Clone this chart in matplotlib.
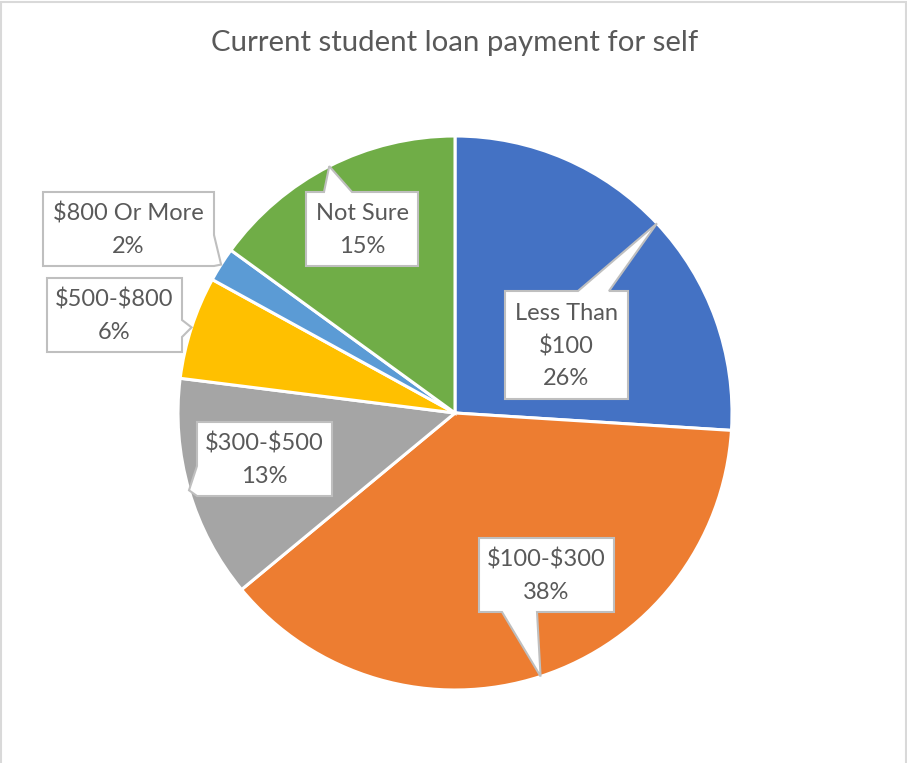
import matplotlib.pyplot as plt
from matplotlib.patches import Polygon, Rectangle
import numpy as np

# Survey responses, clockwise from 12 o'clock
categories = ["Less Than\n$100", "$100-$300", "$300-$500", "$500-$800", "$800 Or More", "Not Sure"]
percents = [26, 38, 13, 6, 2, 15]
colors = ["#4472C4", "#ED7D31", "#A5A5A5", "#FFC000", "#5B9BD5", "#70AD47"]
title = "Current student loan payment for self"

W, H = 907, 763
TEXT = "#595959"
FONT = "Lato"

# callout boxes in pixel coords (left, top, right, bottom) and where the tail leaves the box
callouts = [
    ((505, 291, 628, 399), "top", (578, 609)),
    ((479, 538, 614, 612), "bottom", (502, 537)),
    ((197, 422, 332, 496), "left", (466, 496)),
    ((47, 278, 182, 352), "right", (320, 337)),
    ((43, 192, 214, 266), "right", (235, 266)),
    ((306, 192, 418, 266), "top", (324, 352)),
]

cx, cy, radius = 455, 413, 277


def flip(pts):
    return [(x, H - y) for x, y in pts]


def callout_shape(box, side, base, tip):
    l, t, r, b = box
    a0, a1 = base
    if side == "top":
        pts = [(l, t), (a0, t), tip, (a1, t), (r, t), (r, b), (l, b)]
    elif side == "right":
        pts = [(l, t), (r, t), (r, a0), tip, (r, a1), (r, b), (l, b)]
    elif side == "bottom":
        pts = [(l, t), (r, t), (r, b), (a1, b), tip, (a0, b), (l, b)]
    else:
        pts = [(l, t), (r, t), (r, b), (l, b), (l, a1), tip, (l, a0)]
    return flip(pts)


fig = plt.figure(figsize=(W / 100, H / 100), dpi=100)
ax = fig.add_axes([0, 0, 1, 1])

wedges, _ = ax.pie(percents, colors=colors, startangle=90, counterclock=False,
                   center=(cx, H - cy), radius=radius, frame=True,
                   wedgeprops=dict(edgecolor="white", linewidth=2.2))
ax.set_xlim(0, W)
ax.set_ylim(0, H)
ax.axis("off")

# chart frame
ax.add_patch(Rectangle((1, -5), W - 2.5, H - 1.5 + 5, fill=False,
                       edgecolor="#D9D9D9", linewidth=1.5))

for w, name, pct, (box, side, base) in zip(wedges, categories, percents, callouts):
    mid = np.deg2rad((w.theta1 + w.theta2) / 2)
    tip = (cx + radius * np.cos(mid), cy - radius * np.sin(mid))
    shape = Polygon(callout_shape(box, side, base, tip), closed=True,
                    facecolor="white", edgecolor="#BFBFBF", linewidth=1.5,
                    joinstyle="miter", zorder=5)
    ax.add_patch(shape)
    l, t, r, b = box
    ax.text((l + r) / 2, H - (t + b) / 2 - 1, f"{name}\n{pct}%", ha="center", va="center",
            fontsize=17, color=TEXT, family=FONT, linespacing=1.65, zorder=6,
            parse_math=False)

ax.text(W / 2 + 1, H - 43, title, ha="center", va="center", fontsize=21.2,
        color=TEXT, family=FONT)

fig.savefig("out.png", dpi=100)
